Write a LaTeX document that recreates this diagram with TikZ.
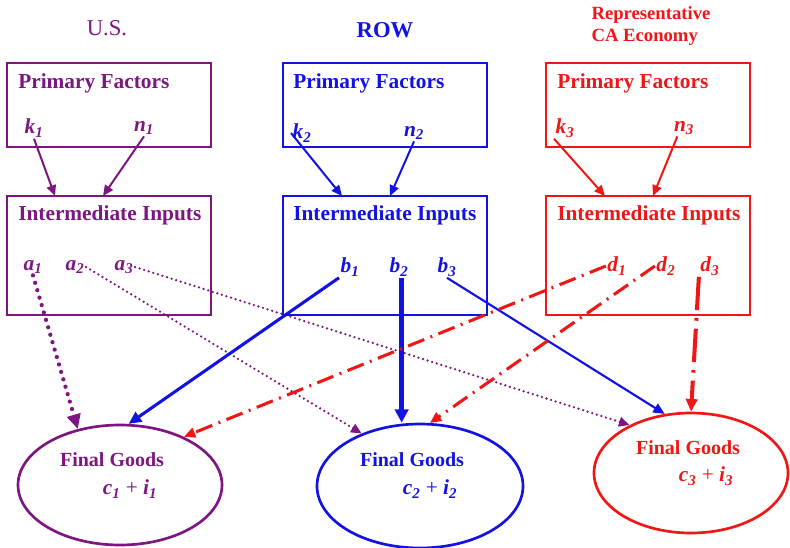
\documentclass[tikz,border=0pt]{standalone}
\usepackage{fontspec}
\setmainfont{Liberation Serif}
\usepackage{tikz}
\usetikzlibrary{arrows.meta,shapes.geometric}
\definecolor{uspurple}{RGB}{125,22,128}
\definecolor{rowblue}{RGB}{18,18,228}
\definecolor{cared}{RGB}{240,22,22}
\newcommand{\vlab}[2]{\textbf{\textit{#1}}\textsubscript{\textbf{\textit{#2}}}}

\begin{document}
\begin{tikzpicture}[x=0.75pt,y=-0.75pt]
\tikzstyle{box} = [draw, line width=1.5pt, inner sep=0pt, minimum width=153pt]
\tikzstyle{goods} = [draw, ellipse, line width=2pt, inner sep=0pt]
\tikzstyle{head} = [font=\fontsize{16}{19}\selectfont\bfseries, anchor=west, inner sep=0pt]
\tikzstyle{fgtext} = [font=\fontsize{15}{18}\selectfont\bfseries, inner sep=0pt]
\tikzstyle{var} = [font=\fontsize{16}{19}\selectfont, inner sep=1pt]
\tikzstyle{freccia} = [-{Triangle[length=8pt,width=7pt]}, line width=1.5pt]
\tikzstyle{usdot} = [uspurple, -{Triangle[length=8pt,width=7pt]}, line width=1.9pt, dash pattern=on 0pt off 3.6pt, line cap=round]
\tikzstyle{usdotbig} = [uspurple, -{Triangle[length=11pt,width=10pt]}, line width=3.2pt, dash pattern=on 0pt off 5.8pt, line cap=round]
\tikzstyle{cadash} = [cared, -{Triangle[length=8.5pt,width=7.5pt]}, line width=2.3pt, dash pattern=on 13pt off 5pt on 1.5pt off 5pt]
\useasboundingbox (0,0) rectangle (790,547);

% titles
\node[text=uspurple, font=\fontsize{17}{20}\selectfont] (ustit) at (107,28) {U.S.};
\node[text=rowblue, font=\fontsize{17}{20}\selectfont\bfseries] (rowtit) at (385,30) {ROW};
\node[text=cared, font=\fontsize{14}{16.5}\selectfont\bfseries, align=left] (catit) at (651,26) {Representative\\CA Economy};

% U.S.
\node[box, uspurple, minimum height=63pt] (uspf) at (108.5,105) {};
\node[box, uspurple, minimum height=89.25pt] (usii) at (108.5,255.5) {};
\node[head, text=uspurple] (uspfh) at (18,83) {Primary Factors};
\node[head, text=uspurple] (usiih) at (18,215) {Intermediate Inputs};
\node[var, text=uspurple] (k1) at (34,128) {\vlab{k}{1}};
\node[var, text=uspurple] (n1) at (144,128) {\vlab{n}{1}};
\node[var, text=uspurple] (a1) at (33,267) {\vlab{a}{1}};
\node[var, text=uspurple] (a2) at (75,267) {\vlab{a}{2}};
\node[var, text=uspurple] (a3) at (124,267) {\vlab{a}{3}};
\coordinate (usin1) at (55,196);
\coordinate (usin2) at (103,196);

% ROW
\node[box, rowblue, minimum height=63pt] (rowpf) at (384.5,105) {};
\node[box, rowblue, minimum height=89.25pt] (rowii) at (384.5,255.5) {};
\node[head, text=rowblue] (rowpfh) at (293,83) {Primary Factors};
\node[head, text=rowblue] (rowiih) at (293,215) {Intermediate Inputs};
\node[var, text=rowblue] (k2) at (302,133) {\vlab{k}{2}};
\node[var, text=rowblue] (n2) at (414,133) {\vlab{n}{2}};
\node[var, text=rowblue] (b1) at (350,267) {\vlab{b}{1}};
\node[var, text=rowblue] (b2) at (399,267) {\vlab{b}{2}};
\node[var, text=rowblue] (b3) at (447,267) {\vlab{b}{3}};
\coordinate (rowin1) at (342,196);
\coordinate (rowin2) at (390,196);

% CA
\node[box, cared, minimum height=63pt] (capf) at (647.5,105) {};
\node[box, cared, minimum height=89.25pt] (caii) at (647.5,255.5) {};
\node[head, text=cared] (capfh) at (557,83) {Primary Factors};
\node[head, text=cared] (caiih) at (557,215) {Intermediate Inputs};
\node[var, text=cared] (k3) at (565,128) {\vlab{k}{3}};
\node[var, text=cared] (n3) at (684,128) {\vlab{n}{3}};
\node[var, text=cared] (d1) at (617,266) {\vlab{d}{1}};
\node[var, text=cared] (d2) at (666,266) {\vlab{d}{2}};
\node[var, text=cared] (d3) at (710,266) {\vlab{d}{3}};
\coordinate (cain1) at (605,196);
\coordinate (cain2) at (653,196);

% final goods
\node[goods, uspurple, minimum width=153pt, minimum height=90pt] (fg1) at (120,485) {};
\node[goods, rowblue, minimum width=154.5pt, minimum height=93pt] (fg2) at (420,486) {};
\node[goods, cared, minimum width=145.5pt, minimum height=90pt] (fg3) at (691,473) {};
\node[fgtext, text=uspurple] (fg1h) at (112,460) {Final Goods};
\node[var, text=uspurple] (fg1v) at (130,489) {\vlab{c}{1} + \vlab{i}{1}};
\node[fgtext, text=rowblue] (fg2h) at (412,460) {Final Goods};
\node[var, text=rowblue] (fg2v) at (430,489) {\vlab{c}{2} + \vlab{i}{2}};
\node[fgtext, text=cared] (fg3h) at (688,448) {Final Goods};
\node[var, text=cared] (fg3v) at (706,476) {\vlab{c}{3} + \vlab{i}{3}};

% factors to inputs
\draw[freccia, uspurple] (k1.south) -- (usin1);
\draw[freccia, uspurple] (n1.south) -- (usin2);
\draw[freccia, rowblue] (k2.west) -- (rowin1);
\draw[freccia, rowblue] (n2.south) -- (rowin2);
\draw[freccia, cared] (k3.south west) -- (cain1);
\draw[freccia, cared] ([xshift=-5pt]n3.south) -- (cain2);

% inputs to final goods
\draw[usdotbig] (a1.south) -- (fg1.127);
\draw[usdot] (a2.east) -- (fg2.138);
\draw[usdot] (a3.east) -- (fg3.142);
\draw[rowblue, -{Triangle[length=9.5pt,width=8.5pt]}, line width=2.3pt] (b1.south west) -- (fg1.82);
\draw[rowblue, -{Triangle[length=10pt,width=10pt]}, line width=3.6pt] ([xshift=2pt]b2.south) -- ([xshift=2pt]b2.south |- fg2.north);
\draw[rowblue, -{Triangle[length=8.5pt,width=7.5pt]}, line width=1.6pt] (b3.south) -- (fg3.114);
\draw[cadash] (d1.west) -- (fg1.37);
\draw[cadash] (d2.west) -- (fg2.81);
\draw[cadash, line width=3pt, dash pattern=on 25pt off 6pt on 2pt off 6pt, -{Triangle[length=9.5pt,width=8.5pt]}] (d3.south west) -- (fg3.north);
\end{tikzpicture}
\end{document}
